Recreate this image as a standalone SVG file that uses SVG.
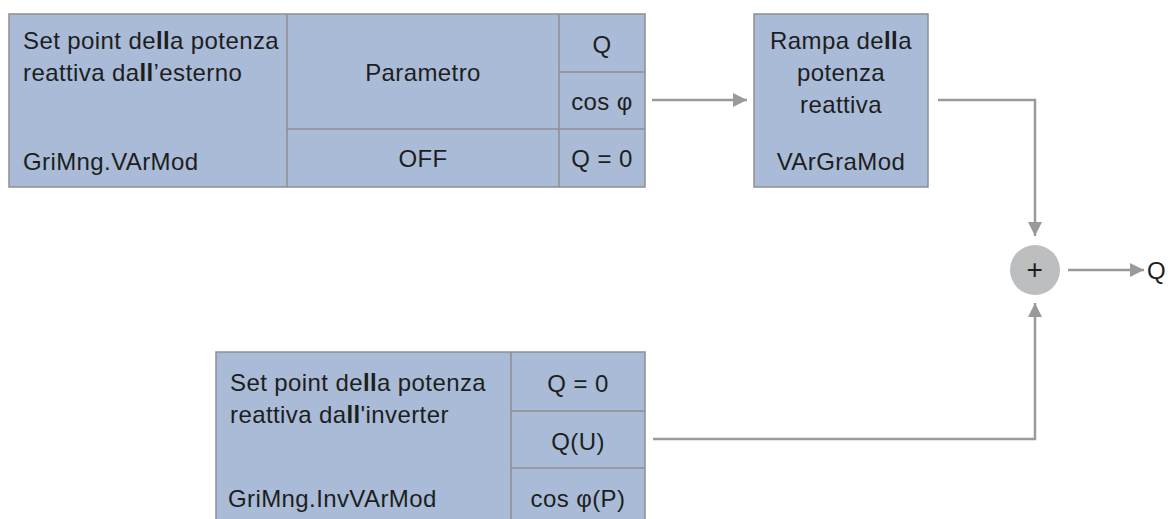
<svg xmlns="http://www.w3.org/2000/svg" width="1168" height="519" viewBox="0 0 1168 519">
<defs>
<style>
.box{fill:#a9bbd6;stroke:#8e8e90;stroke-width:1.5}
.div{stroke:#8e8e90;stroke-width:1.5;fill:none}
.t{font-family:"Liberation Sans","DejaVu Sans",sans-serif;font-size:24px;letter-spacing:0.4px;fill:#1e1e1e}
.c{text-anchor:middle}
.b{font-weight:bold}
.conn{stroke:#9a9a9c;stroke-width:2.5;fill:none}
</style>
<marker id="ah" viewBox="0 0 10 10" refX="10" refY="5" markerWidth="14" markerHeight="14" markerUnits="userSpaceOnUse" orient="auto">
<path d="M0,0 L10,5 L0,10 z" fill="#9a9a9c"/>
</marker>
</defs>
<g id="node-external">
<rect class="box" x="9" y="14" width="636" height="173"/>
<line class="div" x1="287" y1="14" x2="287" y2="187"/>
<line class="div" x1="559" y1="14" x2="559" y2="187"/>
<line class="div" x1="287" y1="129" x2="645" y2="129"/>
<line class="div" x1="559" y1="72" x2="645" y2="72"/>
<text class="t" x="23" y="49">Set point de<tspan class="b">ll</tspan>a potenza</text>
<text class="t" x="23" y="81">reattiva da<tspan class="b">ll</tspan>’esterno</text>
<text class="t" x="23" y="170">GriMng.VArMod</text>
<text class="t c" x="423" y="81">Parametro</text>
<text class="t c" x="423" y="167">OFF</text>
<text class="t c" x="602" y="53">Q</text>
<text class="t c" x="602" y="110">cos φ</text>
<text class="t c" x="602" y="167">Q = 0</text>
</g>
<g id="node-ramp">
<rect class="box" x="754" y="14" width="174" height="173"/>
<text class="t c" x="841" y="49">Rampa de<tspan class="b">ll</tspan>a</text>
<text class="t c" x="841" y="81">potenza</text>
<text class="t c" x="841" y="113">reattiva</text>
<text class="t c" x="841" y="170">VArGraMod</text>
</g>
<g id="node-inverter">
<rect class="box" x="216" y="352" width="429" height="175"/>
<line class="div" x1="511" y1="352" x2="511" y2="519"/>
<line class="div" x1="511" y1="411" x2="645" y2="411"/>
<line class="div" x1="511" y1="468" x2="645" y2="468"/>
<text class="t" x="230" y="391">Set point de<tspan class="b">ll</tspan>a potenza</text>
<text class="t" x="230" y="423">reattiva da<tspan class="b">ll</tspan>'inverter</text>
<text class="t" x="228" y="507">GriMng.InvVArMod</text>
<text class="t c" x="578" y="392">Q = 0</text>
<text class="t c" x="578" y="450">Q(U)</text>
<text class="t c" x="578" y="507">cos φ(P)</text>
</g>
<g id="node-sum">
<circle cx="1035" cy="270" r="25" fill="#bdbec0"/>
<text class="t c" x="1035" y="279" style="font-size:28px">+</text>
</g>
<g id="node-output">
<text class="t" x="1147" y="279">Q</text>
</g>
<g id="connectors">
<line class="conn" x1="652" y1="100" x2="747" y2="100" marker-end="url(#ah)"/>
<polyline class="conn" points="938,100 1035,100 1035,236" marker-end="url(#ah)"/>
<polyline class="conn" points="653,439 1035,439 1035,303" marker-end="url(#ah)"/>
<line class="conn" x1="1068" y1="270" x2="1144" y2="270" marker-end="url(#ah)"/>
</g>
</svg>
